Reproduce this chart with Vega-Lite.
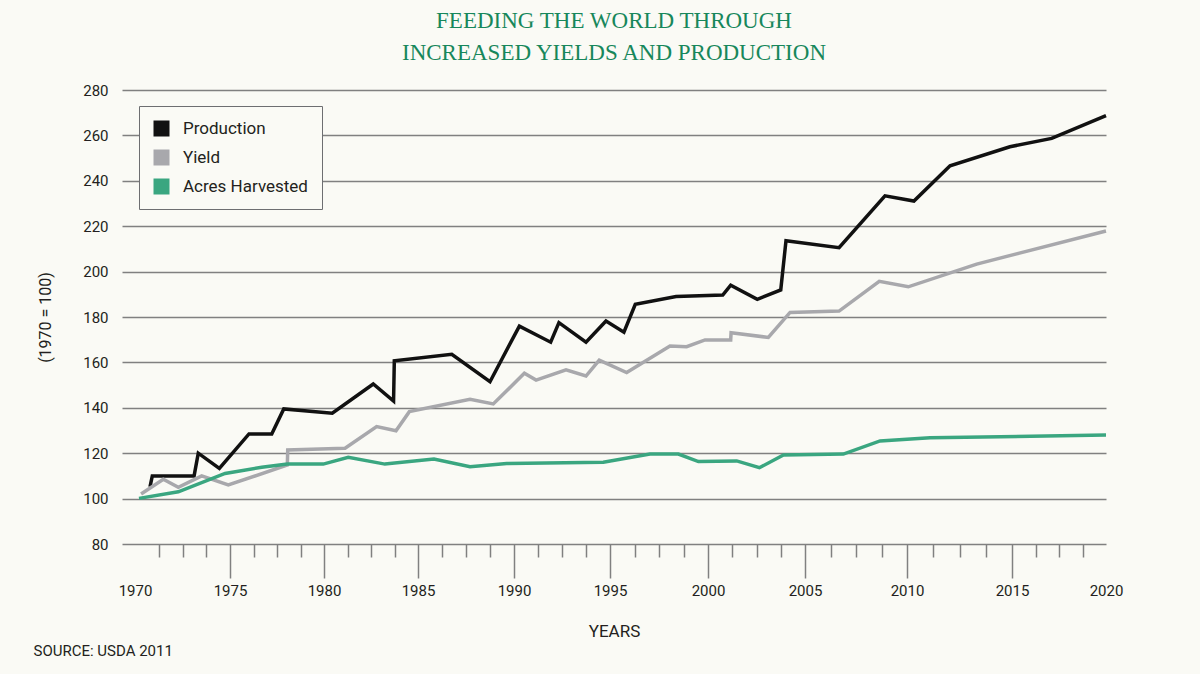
{
  "$schema": "https://vega.github.io/schema/vega-lite/v6.json",
  "width": 984,
  "height": 454,
  "autosize": "none",
  "padding": {"left": 122, "top": 90, "right": 94, "bottom": 130},
  "background": "#fafaf5",
  "title": {
    "text": ["FEEDING THE WORLD THROUGH", "INCREASED YIELDS AND PRODUCTION"],
    "font": "Liberation Serif",
    "fontSize": 23,
    "fontWeight": "normal",
    "color": "#17875b",
    "anchor": "middle",
    "frame": "group",
    "lineHeight": 32,
    "offset": 18
  },
  "config": {"view": {"stroke": null}},
  "data": {
    "values": [
      {"year": 1970.79, "value": 105.2, "series": "Production"},
      {"year": 1970.91, "value": 110, "series": "Production"},
      {"year": 1973.11, "value": 110, "series": "Production"},
      {"year": 1973.33, "value": 120, "series": "Production"},
      {"year": 1974.44, "value": 113.3, "series": "Production"},
      {"year": 1976.01, "value": 128.5, "series": "Production"},
      {"year": 1977.22, "value": 128.5, "series": "Production"},
      {"year": 1977.86, "value": 139.5, "series": "Production"},
      {"year": 1980.44, "value": 137.6, "series": "Production"},
      {"year": 1982.62, "value": 150.5, "series": "Production"},
      {"year": 1983.70, "value": 143, "series": "Production"},
      {"year": 1983.74, "value": 160.7, "series": "Production"},
      {"year": 1986.76, "value": 163.6, "series": "Production"},
      {"year": 1988.75, "value": 151.5, "series": "Production"},
      {"year": 1990.28, "value": 176, "series": "Production"},
      {"year": 1991.91, "value": 168.9, "series": "Production"},
      {"year": 1992.34, "value": 177.5, "series": "Production"},
      {"year": 1993.75, "value": 168.9, "series": "Production"},
      {"year": 1994.79, "value": 178.2, "series": "Production"},
      {"year": 1995.71, "value": 173.3, "series": "Production"},
      {"year": 1996.29, "value": 185.6, "series": "Production"},
      {"year": 1998.37, "value": 189, "series": "Production"},
      {"year": 2000.76, "value": 189.7, "series": "Production"},
      {"year": 2001.17, "value": 194, "series": "Production"},
      {"year": 2002.54, "value": 187.8, "series": "Production"},
      {"year": 2003.75, "value": 191.9, "series": "Production"},
      {"year": 2004.02, "value": 213.6, "series": "Production"},
      {"year": 2006.67, "value": 210.5, "series": "Production"},
      {"year": 2008.92, "value": 233.4, "series": "Production"},
      {"year": 2010.33, "value": 231.1, "series": "Production"},
      {"year": 2012.05, "value": 246.6, "series": "Production"},
      {"year": 2014.90, "value": 255, "series": "Production"},
      {"year": 2017.11, "value": 258.7, "series": "Production"},
      {"year": 2020, "value": 268.7, "series": "Production"},
      {"year": 1970.32, "value": 102, "series": "Yield"},
      {"year": 1971.49, "value": 108.5, "series": "Yield"},
      {"year": 1972.28, "value": 105, "series": "Yield"},
      {"year": 1973.51, "value": 110, "series": "Yield"},
      {"year": 1974.91, "value": 106, "series": "Yield"},
      {"year": 1978.05, "value": 114.8, "series": "Yield"},
      {"year": 1978.07, "value": 121.4, "series": "Yield"},
      {"year": 1981.12, "value": 122.2, "series": "Yield"},
      {"year": 1982.80, "value": 131.7, "series": "Yield"},
      {"year": 1983.83, "value": 129.9, "series": "Yield"},
      {"year": 1984.54, "value": 138.3, "series": "Yield"},
      {"year": 1987.71, "value": 143.7, "series": "Yield"},
      {"year": 1988.92, "value": 141.7, "series": "Yield"},
      {"year": 1990.54, "value": 155.2, "series": "Yield"},
      {"year": 1991.15, "value": 152.2, "series": "Yield"},
      {"year": 1992.71, "value": 156.7, "series": "Yield"},
      {"year": 1993.75, "value": 154, "series": "Yield"},
      {"year": 1994.44, "value": 161, "series": "Yield"},
      {"year": 1995.85, "value": 155.5, "series": "Yield"},
      {"year": 1998.06, "value": 167.2, "series": "Yield"},
      {"year": 1998.91, "value": 166.9, "series": "Yield"},
      {"year": 1999.85, "value": 169.9, "series": "Yield"},
      {"year": 2001.17, "value": 169.9, "series": "Yield"},
      {"year": 2001.19, "value": 173.1, "series": "Yield"},
      {"year": 2003.11, "value": 171, "series": "Yield"},
      {"year": 2004.23, "value": 182, "series": "Yield"},
      {"year": 2006.67, "value": 182.6, "series": "Yield"},
      {"year": 2008.64, "value": 195.7, "series": "Yield"},
      {"year": 2010.06, "value": 193.3, "series": "Yield"},
      {"year": 2013.32, "value": 203.3, "series": "Yield"},
      {"year": 2020, "value": 217.9, "series": "Yield"},
      {"year": 1970.21, "value": 100.1, "series": "Acres Harvested"},
      {"year": 1972.28, "value": 103, "series": "Acres Harvested"},
      {"year": 1974.74, "value": 111.1, "series": "Acres Harvested"},
      {"year": 1976.69, "value": 113.8, "series": "Acres Harvested"},
      {"year": 1978.05, "value": 115.2, "series": "Acres Harvested"},
      {"year": 1979.96, "value": 115.2, "series": "Acres Harvested"},
      {"year": 1981.29, "value": 118.2, "series": "Acres Harvested"},
      {"year": 1983.24, "value": 115.2, "series": "Acres Harvested"},
      {"year": 1985.83, "value": 117.4, "series": "Acres Harvested"},
      {"year": 1987.71, "value": 114, "series": "Acres Harvested"},
      {"year": 1989.62, "value": 115.5, "series": "Acres Harvested"},
      {"year": 1994.65, "value": 116, "series": "Acres Harvested"},
      {"year": 1997.04, "value": 119.6, "series": "Acres Harvested"},
      {"year": 1998.49, "value": 119.6, "series": "Acres Harvested"},
      {"year": 1999.51, "value": 116.3, "series": "Acres Harvested"},
      {"year": 2001.48, "value": 116.6, "series": "Acres Harvested"},
      {"year": 2002.65, "value": 113.6, "series": "Acres Harvested"},
      {"year": 2003.89, "value": 119.2, "series": "Acres Harvested"},
      {"year": 2006.88, "value": 119.6, "series": "Acres Harvested"},
      {"year": 2008.68, "value": 125.4, "series": "Acres Harvested"},
      {"year": 2011.10, "value": 126.8, "series": "Acres Harvested"},
      {"year": 2020, "value": 128, "series": "Acres Harvested"}
    ]
  },
  "layer": [
    {
      "transform": [{"filter": "datum.series !== 'Acres Harvested'"}],
      "mark": {"type": "line", "strokeWidth": 3.5, "strokeJoin": "miter", "strokeCap": "butt"},
      "encoding": {
        "x": {
          "field": "year",
          "type": "quantitative",
          "scale": {
            "domain": [1969.32, 1970, 1975, 1980, 1985, 1990, 1995, 2000, 2005, 2010, 2015, 2020],
            "range": [0, 13, 108, 202, 296, 392, 488, 586, 683, 785, 890, 984],
            "nice": false,
            "zero": false
          },
          "axis": {
            "values": [1970, 1971.25, 1972.5, 1973.75, 1975, 1976.25, 1977.5, 1978.75, 1980, 1981.25, 1982.5, 1983.75, 1985, 1986.25, 1987.5, 1988.75, 1990, 1991.25, 1992.5, 1993.75, 1995, 1996.25, 1997.5, 1998.75, 2000, 2001.25, 2002.5, 2003.75, 2005, 2006.25, 2007.5, 2008.75, 2010, 2011.25, 2012.5, 2013.75, 2015, 2016.25, 2017.5, 2018.75, 2020],
            "format": "d",
            "labelExpr": "datum.value % 5 === 0 ? datum.label : ''",
            "tickSize": {"condition": {"test": "datum.value % 5 === 0", "value": 34}, "value": 13},
            "tickOpacity": {"condition": {"test": "datum.value === 1970 || datum.value === 2020", "value": 0}, "value": 1},
            "tickColor": "#808080",
            "tickWidth": 1.5,
            "domain": false,
            "grid": false,
            "labelPadding": 5,
            "labelFont": "Roboto",
            "labelFontSize": 15,
            "labelColor": "#231f20",
            "labelFlush": false,
            "labelOverlap": false,
            "title": "YEARS",
            "titleFont": "Roboto",
            "titleFontSize": 17,
            "titleFontWeight": "normal",
            "titleColor": "#231f20",
            "titleY": 87,
            "titleBaseline": "middle"
          }
        },
        "y": {
          "field": "value",
          "type": "quantitative",
          "scale": {"domain": [80, 280], "nice": false, "zero": false},
          "axis": {
            "values": [80, 100, 120, 140, 160, 180, 200, 220, 240, 260, 280],
            "grid": true,
            "gridColor": "#808080",
            "gridWidth": 1.5,
            "ticks": false,
            "domain": false,
            "labelPadding": 14,
            "labelFont": "Roboto",
            "labelFontSize": 15,
            "labelColor": "#231f20",
            "title": "(1970 = 100)",
            "titleFont": "Roboto",
            "titleFontSize": 16,
            "titleFontWeight": "normal",
            "titleColor": "#231f20",
            "titleX": -77,
            "titleY": 227,
            "titleAlign": "center",
            "titleBaseline": "middle"
          }
        },
        "color": {
          "field": "series",
          "type": "nominal",
          "scale": {"domain": ["Production", "Yield", "Acres Harvested"], "range": ["#111111", "#a8a8ac", "#3aa680"]},
          "legend": {
            "title": null,
            "orient": "none",
            "legendX": 17,
            "legendY": 16,
            "padding": 14,
            "rowPadding": 11,
            "labelOffset": 13,
            "symbolType": "square",
            "symbolSize": 256,
            "symbolStrokeWidth": 0,
            "labelFont": "Roboto",
            "labelFontSize": 17,
            "labelColor": "#231f20",
            "strokeColor": "#6d6e71",
            "fillColor": "#fafaf5",
            "encode": {"symbols": {"update": {"fill": {"scale": "color", "field": "value"}, "stroke": {"value": "transparent"}}}}
          }
        }
      }
    },
    {
      "transform": [{"filter": "datum.series === 'Acres Harvested'"}],
      "mark": {"type": "line", "strokeWidth": 3.5, "strokeJoin": "miter", "strokeCap": "butt"},
      "encoding": {
        "x": {
          "field": "year",
          "type": "quantitative",
          "axis": {
            "orient": "bottom",
            "labels": false,
            "ticks": false,
            "domain": false,
            "grid": false,
            "title": "SOURCE: USDA 2011",
            "titleFont": "Roboto",
            "titleFontSize": 15,
            "titleFontWeight": "normal",
            "titleColor": "#231f20",
            "titleX": -89,
            "titleY": 106,
            "titleAlign": "left",
            "titleBaseline": "middle"
          }
        },
        "y": {"field": "value", "type": "quantitative"},
        "color": {"field": "series", "type": "nominal"}
      }
    }
  ],
  "resolve": {"axis": {"x": "independent"}}
}
